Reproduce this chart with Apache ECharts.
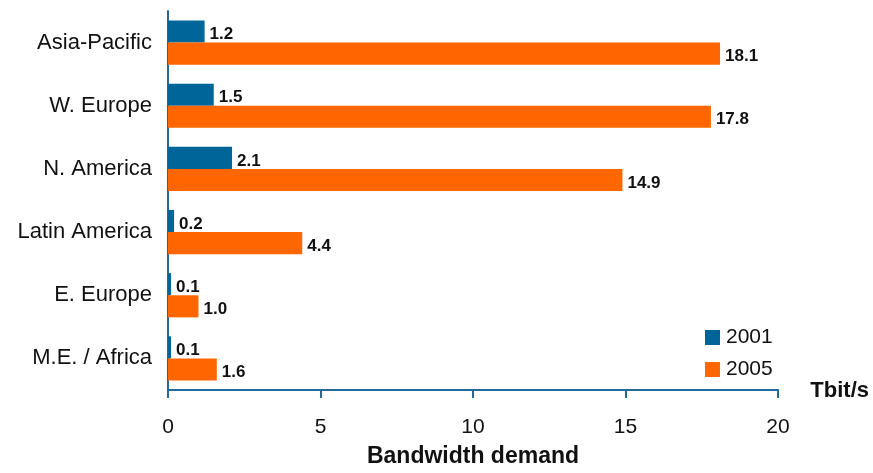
<!DOCTYPE html>
<html>
<head>
<meta charset="utf-8">
<script src="https://cdn.jsdelivr.net/npm/echarts@6/dist/echarts.min.js"></script>
<style>
html,body{margin:0;padding:0;background:#fff;}
#c{width:873px;height:473px;}
</style>
</head>
<body>
<div id="c"></div>
<script>
const categories = ['Asia-Pacific', 'W. Europe', 'N. America', 'Latin America', 'E. Europe', 'M.E. / Africa'];
const values2001 = [1.2, 1.5, 2.1, 0.2, 0.1, 0.1];
const values2005 = [18.1, 17.8, 14.9, 4.4, 1.0, 1.6];
const seriesNames = ['2001', '2005'];
const xTicks = { min: 0, max: 20, interval: 5 };

const FONT = '"Liberation Sans", Arial, sans-serif';
const AXIS = '#23699c';

const labelCfg = {
  show: true,
  position: 'right',
  distance: 5,
  offset: [0, 3],
  color: '#111',
  fontFamily: FONT,
  fontWeight: 'bold',
  fontSize: 17,
  formatter: p => p.value.toFixed(1)
};

const chart = echarts.init(document.getElementById('c'), null, { renderer: 'canvas' });
chart.setOption({
  animation: false,
  backgroundColor: '#fff',
  textStyle: { fontFamily: FONT },
  grid: { left: 168, right: 95, top: 11, bottom: 83, containLabel: false, outerBoundsMode: 'none' },
  legend: {
    orient: 'vertical',
    left: 700,
    top: 322,
    itemWidth: 15,
    itemHeight: 15,
    itemGap: 11,
    icon: 'rect',
    textStyle: { fontFamily: FONT, fontSize: 21, color: '#111', padding: [0, 0, 0, 1] },
    data: seriesNames
  },
  xAxis: {
    type: 'value',
    min: xTicks.min,
    max: xTicks.max,
    interval: xTicks.interval,
    name: 'Bandwidth demand',
    nameLocation: 'middle',
    nameGap: 55,
    nameTextStyle: { fontFamily: FONT, fontWeight: 'bold', fontSize: 23, color: '#111' },
    axisLine: { show: true, lineStyle: { color: AXIS, width: 2 } },
    axisTick: { show: true, length: 8, lineStyle: { color: AXIS, width: 2 } },
    axisLabel: { fontFamily: FONT, fontSize: 21, color: '#111', margin: 27 },
    splitLine: { show: false }
  },
  yAxis: {
    type: 'category',
    data: categories,
    inverse: true,
    axisLine: { show: true, lineStyle: { color: AXIS, width: 2 } },
    axisTick: { show: false },
    axisLabel: { fontFamily: FONT, fontSize: 22, color: '#111', margin: 16 }
  },
  graphic: [{
    type: 'text',
    right: 4,
    top: 380,
    style: { text: 'Tbit/s', fontFamily: FONT, fontWeight: 'bold', fontSize: 22, fill: '#111' }
  }],
  series: [
    {
      name: seriesNames[0],
      type: 'bar',
      data: values2001,
      itemStyle: { color: '#006699' },
      barGap: '0%',
      barCategoryGap: '30%',
      label: labelCfg
    },
    {
      name: seriesNames[1],
      type: 'bar',
      data: values2005,
      itemStyle: { color: '#ff6600' },
      barGap: '0%',
      barCategoryGap: '30%',
      label: labelCfg
    }
  ]
});
</script>
</body>
</html>
